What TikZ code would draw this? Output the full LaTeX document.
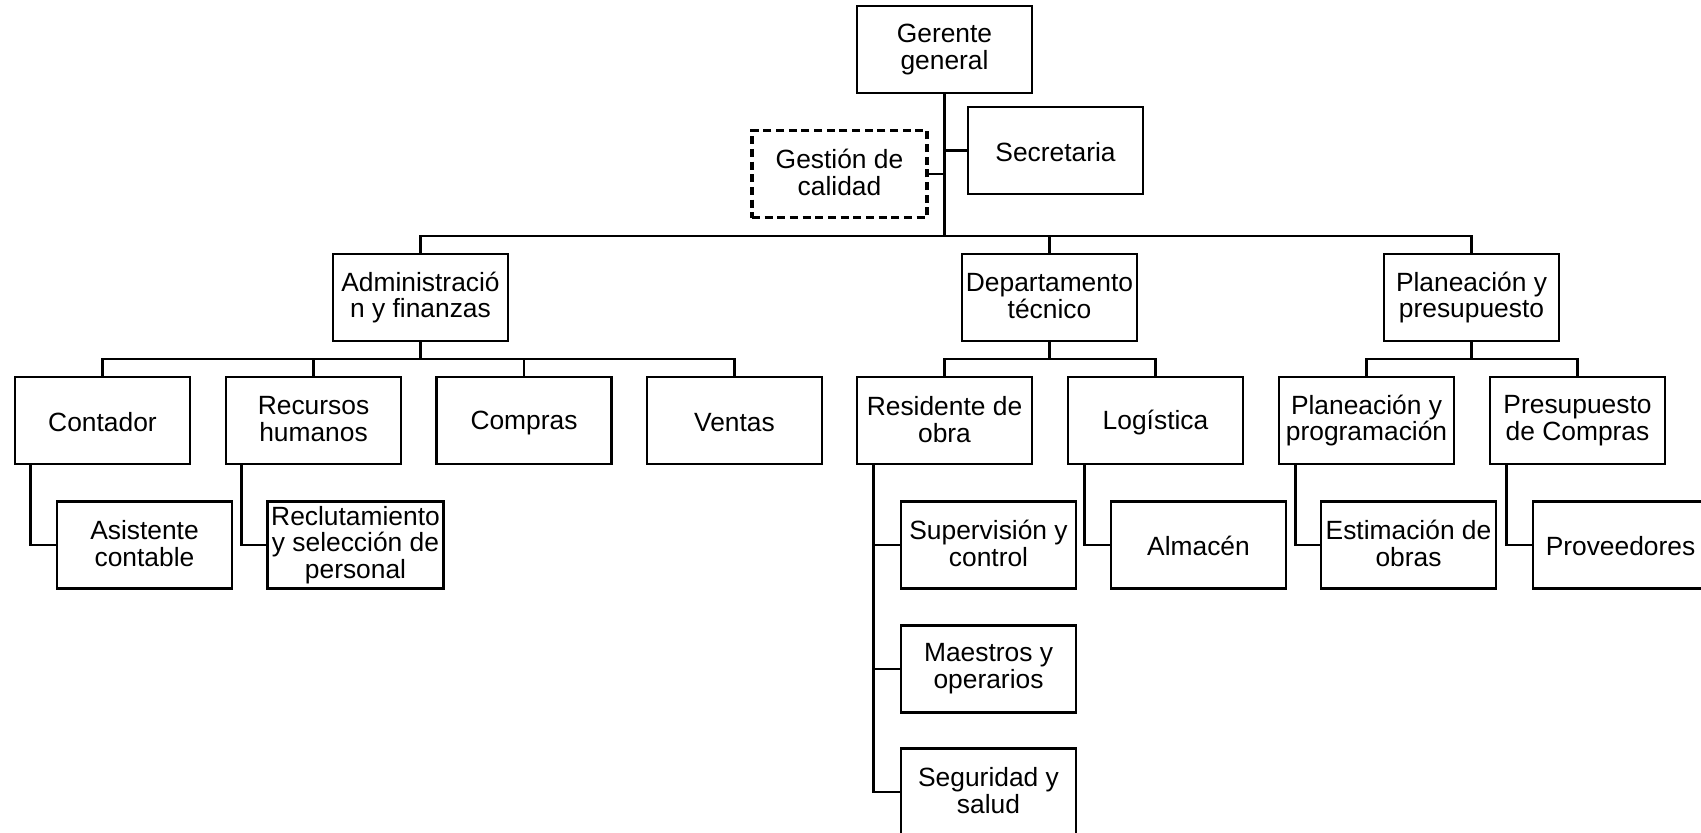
\documentclass[tikz,border=0pt]{standalone}
\usepackage{fontspec}
\setmainfont{Liberation Sans}
% invisible rule that gives every line of a box the same height and depth
\newcommand\boxstrut{\rule[-0.8pt]{0pt}{7.6pt}}
\begin{document}
\begin{tikzpicture}[x=0.01cm,y=-0.01cm,
  line width=0.8pt,
  unit/.style={draw, rectangle, minimum width=1.75cm, minimum height=0.87cm,
    inner sep=1pt, align=center, font=\fontsize{7.5}{7.6}\selectfont,
    execute at begin node=\boxstrut, execute at end node=\boxstrut},
  dashedunit/.style={unit, line width=0.9pt, dash pattern=on 2.3pt off 1.3pt}]
\useasboundingbox (0,0) rectangle (1701,832);

% top level
\node[unit] (ger) at (944.5,49.5) {Gerente\\general};
\node[unit] (sec) at (1055.5,150.5) {Secretaria};
\node[dashedunit] (cal) at (839.5,174) {Gestión de\\calidad};

% departments
\node[unit] (adm) at (420.5,297.5) {Administració\\n y finanzas};
\node[unit] (dep) at (1049.5,297.5) {Departamento\\técnico};
\node[unit] (pla) at (1471.5,297.5) {Planeación y\\presupuesto};

% second level
\node[unit] (con) at (102.5,420.5) {Contador};
\node[unit] (rrh) at (313.5,420.5) {Recursos\\humanos};
\node[unit] (com) at (524,420.5) {Compras};
\node[unit] (ven) at (734.5,420.5) {Ventas};
\node[unit] (res) at (944.5,420.5) {Residente de\\obra};
\node[unit] (log) at (1155.5,420.5) {Logística};
\node[unit] (ppr) at (1366.5,420.5) {Planeación y\\programación};
\node[unit] (pco) at (1577.5,420.5) {Presupuesto\\de Compras};

% third level
\node[unit] (asi) at (144.5,545) {Asistente\\contable};
\node[unit] (rec) at (355.5,545) {Reclutamiento\\y selección de\\personal};
\node[unit] (sup) at (988.5,545) {Supervisión y\\control};
\node[unit] (mae) at (988.5,669) {Maestros y\\operarios};
\node[unit] (seg) at (988.5,792) {Seguridad y\\salud};
\node[unit] (alm) at (1198.5,545) {Almacén};
\node[unit] (est) at (1408.5,545) {Estimación de\\obras};
\node[unit] (pro) at (1620.5,545) {Proveedores};

% bus levels
\coordinate (bus0) at (0,236);
\coordinate (bus1) at (0,359);

% general manager connections
\draw (ger.south) -- (ger.south |- bus0);
\draw (sec.west) -- (sec.west -| ger.south);
\draw (cal.east) -- (cal.east -| ger.south);
\draw (adm.north) |- (bus0 -| ger.south) -| (pla.north);
\draw (dep.north) -- (dep.north |- bus0);

% administration
\draw (adm.south) -- (adm.south |- bus1);
\draw (con.north) |- (bus1 -| adm.south) -| (ven.north);
\draw (rrh.north) -- (rrh.north |- bus1);
\draw (com.north) -- (com.north |- bus1);

% technical department
\draw (dep.south) -- (dep.south |- bus1);
\draw (res.north) |- (bus1 -| dep.south) -| (log.north);

% planning
\draw (pla.south) -- (pla.south |- bus1);
\draw (ppr.north) |- (bus1 -| pla.south) -| (pco.north);

% third-level side lines
\draw ([xshift=0.17cm]con.south west) |- (asi.west);
\draw ([xshift=0.17cm]rrh.south west) |- (rec.west);
\coordinate (rl) at ([xshift=0.18cm]res.south west);
\draw (rl) |- (seg.west);
\draw (sup.west) -- (sup.west -| rl);
\draw (mae.west) -- (mae.west -| rl);
\draw ([xshift=0.18cm]log.south west) |- (alm.west);
\draw ([xshift=0.18cm]ppr.south west) |- (est.west);
\draw ([xshift=0.18cm]pco.south west) |- (pro.west);
\end{tikzpicture}
\end{document}
